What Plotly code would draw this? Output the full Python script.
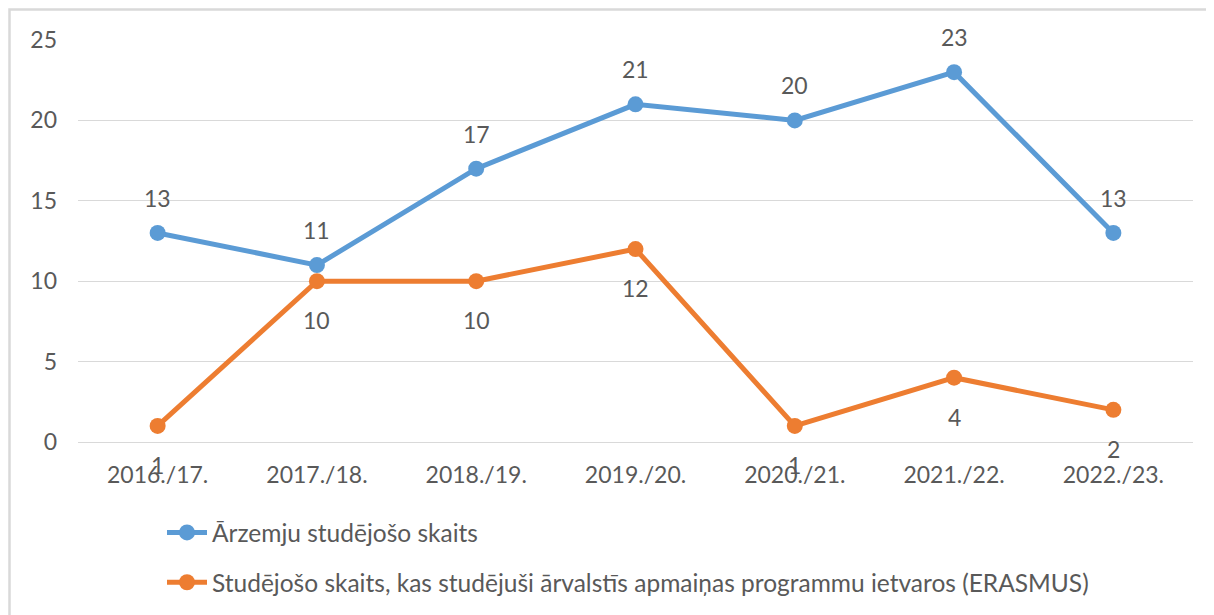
import plotly.graph_objects as go

years = ["2016./17.", "2017./18.", "2018./19.", "2019./20.", "2020./21.", "2021./22.", "2022./23."]
foreign = [13, 11, 17, 21, 20, 23, 13]
erasmus = [1, 10, 10, 12, 1, 4, 2]
name_foreign = "Ārzemju studējošo skaits"
name_erasmus = "Studējošo skaits, kas studējuši ārvalstīs apmaiņas programmu ietvaros (ERASMUS)"

BLUE = "#5B9BD5"
ORANGE = "#ED7D31"
TXT = "#595959"
FONT = "Lato, Open Sans, sans-serif"
FS = 23
FS_LEG = 24.5

W, H = 1206, 607
L, R, T, B = 70, 21, 32, 173
PW = W - L - R
PH = H - T - B

fig = go.Figure()
fig.add_trace(go.Scatter(x=years, y=foreign, name=name_foreign, mode="lines+markers",
                         line=dict(color=BLUE, width=5), marker=dict(size=16, color=BLUE),
                         legendgroup="a"))
fig.add_trace(go.Scatter(x=years, y=erasmus, name=name_erasmus, mode="lines+markers",
                         line=dict(color=ORANGE, width=5), marker=dict(size=16, color=ORANGE),
                         legendgroup="b"))

annotations = []
for x, v in zip(years, foreign):
    annotations.append(dict(x=x, y=v, text=str(v), showarrow=False, yshift=35,
                            font=dict(size=FS, color=TXT, family=FONT)))
for x, v in zip(years, erasmus):
    annotations.append(dict(x=x, y=v, text=str(v), showarrow=False, yshift=-39,
                            font=dict(size=FS, color=TXT, family=FONT)))

fig.update_layout(
    width=W, height=H,
    margin=dict(l=L, r=R, t=T, b=B, autoexpand=False),
    paper_bgcolor="white", plot_bgcolor="white",
    font=dict(family=FONT, color=TXT, size=FS),
    annotations=annotations,
    showlegend=True,
    legend=dict(xref="container", yref="container", x=154 / W, y=1 - 502 / H,
                xanchor="left", yanchor="top", orientation="v",
                font=dict(size=FS_LEG, color=TXT, family=FONT), tracegroupgap=15,
                itemwidth=40),
    xaxis=dict(range=[-0.5, 6.5], showgrid=False, showline=False, ticks="", zeroline=False,
               tickangle=0, tickfont=dict(size=FS, color=TXT), ticklabelstandoff=17),
    yaxis=dict(range=[0, 25], dtick=5, showgrid=True, gridcolor="#d9d9d9", gridwidth=1,
               zeroline=True, zerolinecolor="#d9d9d9", zerolinewidth=1,
               showline=False, ticks="", tickfont=dict(size=FS, color=TXT), ticklabelstandoff=20),
    shapes=[dict(type="rect", xref="paper", yref="paper",
                 x0=(1.5 - L) / PW, x1=1.2, y0=-1, y1=1 + (T - 1.5) / PH,
                 line=dict(color="#d9d9d9", width=2.5), layer="below")],
)

fig.write_html("out.html")
